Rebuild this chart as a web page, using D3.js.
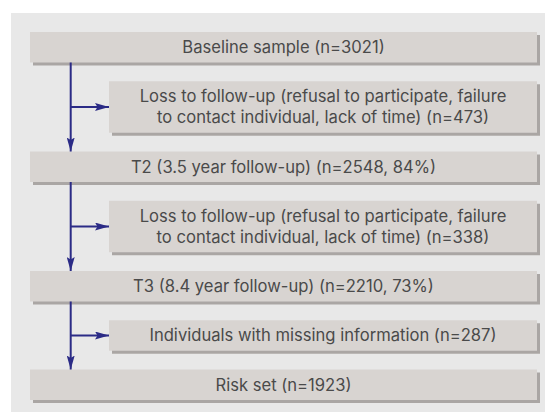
<!DOCTYPE html>
<html>
<head>
<meta charset="utf-8">
<script src="https://cdn.jsdelivr.net/npm/d3@7"></script>
<style>
body { margin: 0; background: #fff; }
text { font-family: Inter, "Open Sans", sans-serif; font-size: 16.6px; fill: #4a4a4a; }
</style>
</head>
<body>
<svg id="chart" width="545" height="412"></svg>
<script>
// flow stages, read top to bottom
var mainLabels = [
	"Baseline sample (n=3021)",
	"T2 (3.5 year follow-up) (n=2548, 84%)",
	"T3 (8.4 year follow-up) (n=2210, 73%)",
	"Risk set (n=1923)"
];
var exclusionLabels = [
	["Loss to follow-up (refusal to participate, failure", "to contact individual, lack of time) (n=473)"],
	["Loss to follow-up (refusal to participate, failure", "to contact individual, lack of time) (n=338)"],
	["Individuals with missing information (n=287)"]
];

var LINE_H = 21, TEXT_LEAD = 21, PAD = 9.5, GAP = 18.75, TOP = 32;
var ARROW = "#2b2b86";

var svg = d3.select("#chart");

// light panel behind everything
svg.append("rect")
	.attr("x", 11).attr("y", 13)
	.attr("width", 545).attr("height", 412)
	.attr("fill", "#e8e8e8");

// build the stacked list of boxes
var boxes = [];
mainLabels.forEach(function (lab, i) {
	boxes.push({ kind: "main", lines: [lab], idx: i });
	if (i < exclusionLabels.length) {
		boxes.push({ kind: "side", lines: exclusionLabels[i], idx: i });
	}
});
var y = TOP;
boxes.forEach(function (b) {
	b.h = PAD + LINE_H * b.lines.length;
	b.y = y;
	y += b.h + GAP;
});

// horizontal positions: main left, side left, right edge, and the spine
var xScale = d3.scaleOrdinal()
	.domain(["main", "side", "right", "spine"])
	.range([30, 109, 537, 70.7]);

svg.append("defs").append("marker")
	.attr("id", "head")
	.attr("viewBox", "0 0 14 8")
	.attr("refX", 14).attr("refY", 4)
	.attr("markerWidth", 14).attr("markerHeight", 8)
	.attr("markerUnits", "userSpaceOnUse")
	.attr("orient", "auto")
	.append("path")
	.attr("d", "M0,0 L14,4 L0,8 L2.5,4 Z")
	.attr("fill", ARROW);

var g = svg.selectAll("g.box").data(boxes).enter().append("g").attr("class", "box");

// drop shadow
g.append("rect")
	.attr("x", function (d) { return xScale(d.kind) + 3; })
	.attr("y", function (d) { return d.y + 3; })
	.attr("width", function (d) { return xScale("right") - xScale(d.kind); })
	.attr("height", function (d) { return d.h; })
	.attr("fill", "#aaa6a4");

g.append("rect")
	.attr("x", function (d) { return xScale(d.kind); })
	.attr("y", function (d) { return d.y; })
	.attr("width", function (d) { return xScale("right") - xScale(d.kind); })
	.attr("height", function (d) { return d.h; })
	.attr("fill", "#d8d4d1");

// one text per box, extra lines as tspans
g.each(function (d) {
	var cx = (xScale(d.kind) + xScale("right")) / 2;
	var cy = d.y + d.h / 2;
	var n = d.lines.length;
	d3.select(this).append("text")
		.attr("text-anchor", "middle")
		.selectAll("tspan").data(d.lines).enter().append("tspan")
		.attr("x", cx)
		.attr("y", function (t, i) { return cy + (i - (n - 1) / 2) * TEXT_LEAD; })
		.attr("dy", "0.36em")
		.text(function (t) { return t; });
});

// arrows
var mains = boxes.filter(function (b) { return b.kind === "main"; });
var sides = boxes.filter(function (b) { return b.kind === "side"; });
var sx = xScale("spine");

for (var i = 0; i < mains.length - 1; i++) {
	svg.append("line")
		.attr("x1", sx).attr("x2", sx)
		.attr("y1", mains[i].y + mains[i].h)
		.attr("y2", mains[i + 1].y)
		.attr("stroke", ARROW).attr("stroke-width", 2)
		.attr("marker-end", "url(#head)");
}
sides.forEach(function (s) {
	svg.append("line")
		.attr("x1", sx).attr("x2", xScale("side"))
		.attr("y1", s.y + s.h / 2).attr("y2", s.y + s.h / 2)
		.attr("stroke", ARROW).attr("stroke-width", 2)
		.attr("marker-end", "url(#head)");
});
</script>
</body>
</html>
